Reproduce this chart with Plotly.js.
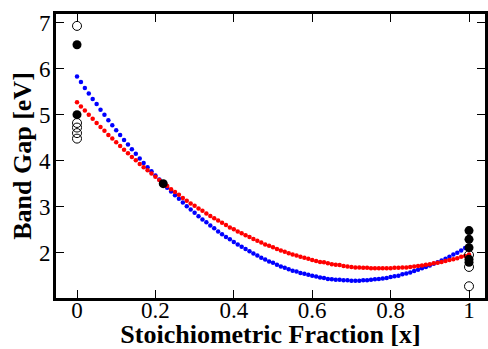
<!DOCTYPE html>
<html>
<head>
<meta charset="utf-8">
<script src="https://cdn.plot.ly/plotly-3.0.1.min.js"></script>
<style>html,body{margin:0;padding:0;background:#fff;}#chart{width:488px;height:349px;}</style>
</head>
<body>
<div id="chart"></div>
<script>
const xFrac = [0,0.01,0.02,0.03,0.04,0.05,0.06,0.07,0.08,0.09,0.10,0.11,0.12,0.13,0.14,0.15,0.16,0.17,0.18,0.19,0.20,0.21,0.22,0.23,0.24,0.25,0.26,0.27,0.28,0.29,0.30,0.31,0.32,0.33,0.34,0.35,0.36,0.37,0.38,0.39,0.40,0.41,0.42,0.43,0.44,0.45,0.46,0.47,0.48,0.49,0.50,0.51,0.52,0.53,0.54,0.55,0.56,0.57,0.58,0.59,0.60,0.61,0.62,0.63,0.64,0.65,0.66,0.67,0.68,0.69,0.70,0.71,0.72,0.73,0.74,0.75,0.76,0.77,0.78,0.79,0.80,0.81,0.82,0.83,0.84,0.85,0.86,0.87,0.88,0.89,0.90,0.91,0.92,0.93,0.94,0.95,0.96,0.97,0.98,0.99,1.00];
const blueGap = [5.83,5.71,5.58,5.46,5.34,5.23,5.11,5.00,4.88,4.77,4.66,4.56,4.45,4.35,4.25,4.15,4.05,3.95,3.86,3.77,3.68,3.59,3.50,3.41,3.33,3.25,3.17,3.09,3.01,2.94,2.87,2.79,2.72,2.66,2.59,2.53,2.46,2.40,2.34,2.29,2.23,2.18,2.13,2.08,2.03,1.98,1.94,1.89,1.85,1.81,1.78,1.74,1.70,1.67,1.64,1.61,1.59,1.56,1.54,1.52,1.50,1.48,1.46,1.45,1.43,1.42,1.41,1.41,1.40,1.40,1.39,1.39,1.39,1.40,1.40,1.41,1.42,1.43,1.44,1.45,1.47,1.49,1.50,1.53,1.55,1.57,1.60,1.63,1.66,1.69,1.72,1.76,1.79,1.83,1.87,1.91,1.96,2.00,2.05,2.10,2.15];
const redGap = [5.27,5.18,5.09,5.00,4.91,4.82,4.73,4.65,4.56,4.48,4.40,4.32,4.24,4.16,4.08,4.01,3.93,3.86,3.79,3.72,3.65,3.58,3.51,3.45,3.38,3.32,3.26,3.19,3.13,3.07,3.02,2.96,2.91,2.85,2.80,2.75,2.70,2.65,2.60,2.55,2.51,2.46,2.42,2.38,2.34,2.30,2.26,2.22,2.18,2.15,2.12,2.08,2.05,2.02,1.99,1.96,1.94,1.91,1.89,1.87,1.84,1.82,1.80,1.79,1.77,1.75,1.74,1.73,1.71,1.70,1.69,1.68,1.68,1.67,1.67,1.66,1.66,1.66,1.66,1.66,1.66,1.67,1.67,1.68,1.68,1.69,1.70,1.71,1.72,1.74,1.75,1.77,1.78,1.80,1.82,1.84,1.86,1.88,1.91,1.93,1.96];
const filledX = [0,0,0.22,1,1,1,1,1];
const filledY = [6.52,5.0,3.5,2.48,2.29,2.11,1.86,1.79];
const openX = [0,0,0,0,0,1,1,1];
const openY = [6.93,4.82,4.72,4.60,4.48,1.95,1.69,1.27];
const xTickVals = [0,0.2,0.4,0.6,0.8,1];
const xTickText = ['0','0.2','0.4','0.6','0.8','1'];
const yTickVals = [2,3,4,5,6,7];
const yTickText = ['2','3','4','5','6','7'];

const serif = '"Liberation Serif", "Times New Roman", serif';
const traces = [
  {x: xFrac, y: blueGap, mode: 'markers', type: 'scatter', marker: {color: '#0000ff', size: 4.5}, hoverinfo: 'skip'},
  {x: xFrac, y: redGap, mode: 'markers', type: 'scatter', marker: {color: '#ff0000', size: 4.5}, hoverinfo: 'skip'},
  {x: openX, y: openY, mode: 'markers', type: 'scatter', marker: {symbol: 'circle-open', color: '#000', size: 9, line: {width: 1, color: '#000'}}},
  {x: filledX, y: filledY, mode: 'markers', type: 'scatter', marker: {color: '#000', size: 9}}
];
const axisCommon = {
  showgrid: false, zeroline: false, showline: true, linecolor: '#000', linewidth: 3, mirror: 'allticks',
  ticks: 'inside', ticklen: 8, tickwidth: 1, tickcolor: '#000',
  tickfont: {family: serif, size: 23, color: '#000'}
};
const layout = {
  width: 488, height: 349,
  margin: {l: 56, r: 3, t: 14, b: 51},
  paper_bgcolor: '#fff', plot_bgcolor: '#fff',
  showlegend: false,
  xaxis: Object.assign({}, axisCommon, {
    range: [-0.0536, 1.0408], tickmode: 'array', tickvals: xTickVals, ticktext: xTickText,
    ticklabelstandoff: -11,
    title: {text: '<b>Stoichiometric Fraction [x]</b>', font: {family: serif, size: 26, color: '#000'}, standoff: 3}
  }),
  yaxis: Object.assign({}, axisCommon, {
    range: [1.015, 7.189], tickmode: 'array', tickvals: yTickVals, ticktext: yTickText,
    ticklabelstandoff: -2,
    title: {text: '<b>Band Gap [eV]</b>', font: {family: serif, size: 26, color: '#000'}, standoff: 0}
  })
};
Plotly.newPlot('chart', traces, layout, {staticPlot: true, displayModeBar: false});
</script>
</body>
</html>
